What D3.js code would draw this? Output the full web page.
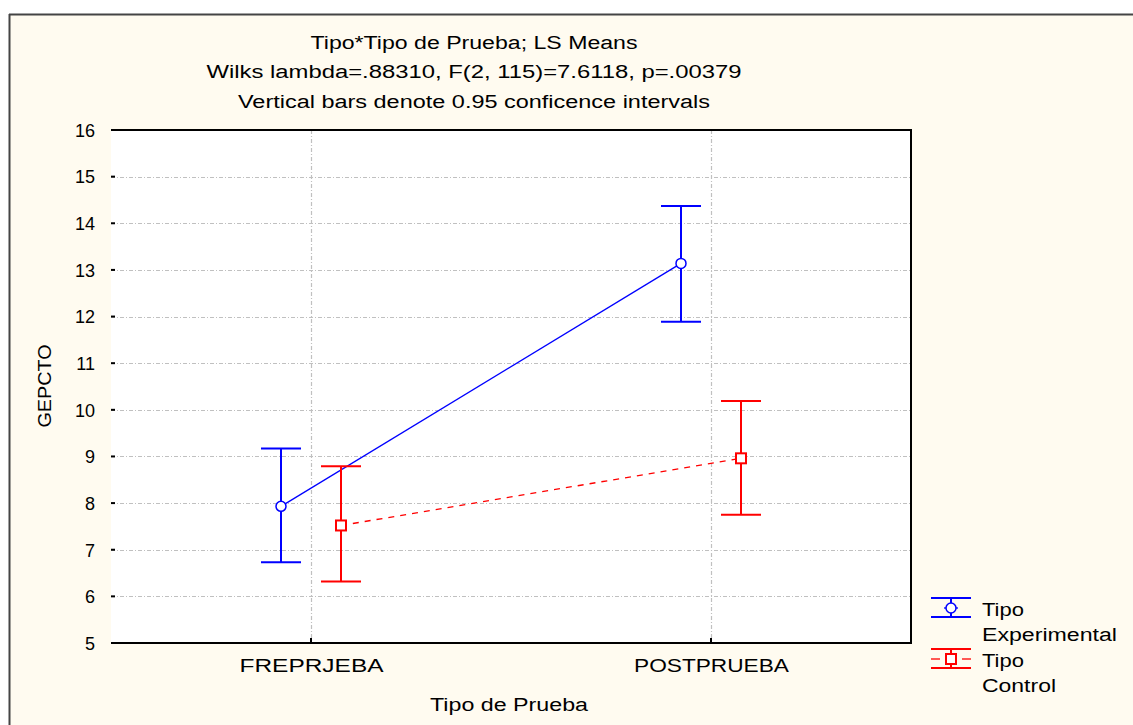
<!DOCTYPE html>
<html><head><meta charset="utf-8">
<script src="https://cdn.jsdelivr.net/npm/d3@7"></script>
<style>html,body{margin:0;padding:0;background:#fff;} svg{display:block;font-family:"Liberation Sans",Arial,sans-serif;}</style>
</head><body>
<svg id="c" width="1133" height="725"></svg>
<script>
const categories = ["FREPRJEBA", "POSTPRUEBA"];
const seriesNames = ["Tipo Experimental", "Tipo Control"];
const expMean = [7.93, 13.14];
const expLow = [6.73, 11.89];
const expHigh = [9.17, 14.37];
const ctlMean = [7.52, 8.96];
const ctlLow = [6.32, 7.75];
const ctlHigh = [8.79, 10.19];
const yTicks = [5, 6, 7, 8, 9, 10, 11, 12, 13, 14, 15, 16];
const titles = ["Tipo*Tipo de Prueba; LS Means", "Wilks lambda=.88310, F(2, 115)=7.6118, p=.00379", "Vertical bars denote 0.95 conficence intervals"];

const svg = d3.select("#c");
const W = 1133, H = 725;
const L = 111, R = 911, T = 130, B = 643;

// background frame
svg.append("rect").attr("x", 9).attr("y", 14).attr("width", W - 9).attr("height", H - 14).attr("fill", "#fffbf0");
svg.append("line").attr("x1", 9).attr("x2", W).attr("y1", 14.5).attr("y2", 14.5).attr("stroke", "#444").attr("stroke-width", 2);
svg.append("line").attr("x1", 9.5).attr("x2", 9.5).attr("y1", 14).attr("y2", H).attr("stroke", "#444").attr("stroke-width", 2);

svg.append("rect").attr("x", L).attr("y", T).attr("width", R - L).attr("height", B - T).attr("fill", "#fff");

const x = d3.scalePoint().domain(categories).range([L, R]).padding(0.5);
const y = d3.scaleLinear().domain([5, 16]).range([B, T]);
const off = 30;

// grid
const grid = svg.append("g").attr("stroke", "#c0c0c0").attr("stroke-width", 1.2).attr("stroke-dasharray", "4,2,1,2");
yTicks.filter(t => t > 5 && t < 16).forEach(t => {
  grid.append("line").attr("x1", L).attr("x2", R).attr("y1", Math.round(y(t)) + 0.5).attr("y2", Math.round(y(t)) + 0.5);
});
categories.forEach(c => {
  grid.append("line").attr("x1", Math.round(x(c)) + 0.5).attr("x2", Math.round(x(c)) + 0.5).attr("y1", T).attr("y2", B);
});

// frame lines
const fr = svg.append("g").attr("stroke", "#000").attr("stroke-width", 2);
fr.append("line").attr("x1", L).attr("x2", R + 1).attr("y1", T).attr("y2", T);
fr.append("line").attr("x1", L).attr("x2", R + 1).attr("y1", B).attr("y2", B);
fr.append("line").attr("x1", R).attr("x2", R).attr("y1", T).attr("y2", B);

// axes
const yAxis = d3.axisLeft(y).tickValues(yTicks).tickSize(0).tickPadding(16);
const ga = svg.append("g").attr("transform", `translate(${L},0)`).call(yAxis);
ga.select(".domain").remove();
ga.selectAll("text").attr("font-size", 18).attr("fill", "#000").attr("dy", "0.35em");
yTicks.forEach(t => svg.append("line").attr("x1", L).attr("x2", L + 4).attr("y1", y(t)).attr("y2", y(t)).attr("stroke", "#000").attr("stroke-width", 2));

const xAxis = d3.axisBottom(x).tickSize(0).tickPadding(16);
const gx = svg.append("g").attr("transform", `translate(0,${B})`).call(xAxis);
gx.select(".domain").remove();
gx.selectAll("text").attr("font-size", 18).attr("fill", "#000")
  .attr("textLength", (d, i) => [144, 155][i]).attr("lengthAdjust", "spacingAndGlyphs");
categories.forEach(c => svg.append("line").attr("x1", x(c)).attr("x2", x(c)).attr("y1", B).attr("y2", B - 5).attr("stroke", "#000").attr("stroke-width", 2));

// titles
const tLen = [327, 535, 472], tY = [49, 78, 108];
titles.forEach((t, i) => svg.append("text").attr("x", 474).attr("y", tY[i]).attr("text-anchor", "middle")
  .attr("font-size", 18).attr("textLength", tLen[i]).attr("lengthAdjust", "spacingAndGlyphs").text(t));

svg.append("text").attr("x", 509).attr("y", 711).attr("text-anchor", "middle").attr("font-size", 18)
  .attr("textLength", 158).attr("lengthAdjust", "spacingAndGlyphs").text("Tipo de Prueba");
svg.append("text").attr("transform", "translate(51,386) rotate(-90)").attr("text-anchor", "middle").attr("font-size", 18)
  .attr("textLength", 83).attr("lengthAdjust", "spacingAndGlyphs").text("GEPCTO");

// series
const series = [
  {mean: expMean, low: expLow, high: expHigh, color: "#0000ff", dx: -off, dash: null, sym: "circle"},
  {mean: ctlMean, low: ctlLow, high: ctlHigh, color: "#ff0000", dx: off, dash: "6,6", sym: "square"}
];
series.forEach(s => {
  const pts = categories.map((c, i) => [x(c) + s.dx, y(s.mean[i])]);
  svg.append("path").attr("d", d3.line()(pts)).attr("fill", "none").attr("stroke", s.color).attr("stroke-width", 1.3)
    .attr("stroke-dasharray", s.dash);
  categories.forEach((c, i) => {
    const cx = x(c) + s.dx;
    const g = svg.append("g").attr("stroke", s.color).attr("stroke-width", 2);
    g.append("line").attr("x1", cx).attr("x2", cx).attr("y1", y(s.high[i])).attr("y2", y(s.low[i]));
    g.append("line").attr("x1", cx - 20).attr("x2", cx + 20).attr("y1", y(s.high[i])).attr("y2", y(s.high[i]));
    g.append("line").attr("x1", cx - 20).attr("x2", cx + 20).attr("y1", y(s.low[i])).attr("y2", y(s.low[i]));
    if (s.sym === "circle") {
      g.append("circle").attr("cx", cx).attr("cy", y(s.mean[i])).attr("r", 5).attr("fill", "#fff").attr("stroke-width", 1.5);
    } else {
      g.append("rect").attr("x", cx - 5).attr("y", y(s.mean[i]) - 5).attr("width", 10).attr("height", 10).attr("fill", "#fff").attr("stroke-width", 2);
    }
  });
});

// legend
const legY = [598, 649];
series.forEach((s, i) => {
  const y0 = legY[i], cx = 951;
  const g = svg.append("g").attr("stroke", s.color).attr("stroke-width", 2);
  [y0, y0 + 19].forEach(yy => g.append("line").attr("x1", 931).attr("x2", 971).attr("y1", yy).attr("y2", yy));
  g.append("line").attr("x1", cx).attr("x2", cx).attr("y1", y0).attr("y2", y0 + 19);
  if (s.sym === "circle") {
    g.append("line").attr("x1", 944).attr("x2", 958).attr("y1", y0 + 10).attr("y2", y0 + 10).attr("stroke-width", 1.3);
    g.append("circle").attr("cx", cx).attr("cy", y0 + 10).attr("r", 5).attr("fill", "#fff").attr("stroke-width", 1.5);
  } else {
    g.append("line").attr("x1", 931).attr("x2", 940).attr("y1", y0 + 10).attr("y2", y0 + 10).attr("stroke-width", 1.3);
    g.append("line").attr("x1", 962).attr("x2", 971).attr("y1", y0 + 10).attr("y2", y0 + 10).attr("stroke-width", 1.3);
    g.append("rect").attr("x", cx - 5).attr("y", y0 + 5).attr("width", 10).attr("height", 10).attr("fill", "#fff");
  }
  const parts = seriesNames[i].split(" ");
  const lens = [[42, 135], [42, 74]][i];
  parts.forEach((p, j) => svg.append("text").attr("x", 982).attr("y", y0 + 18 + j * 25).attr("font-size", 18)
    .attr("textLength", lens[j]).attr("lengthAdjust", "spacingAndGlyphs").text(p));
});
</script>
</body></html>
